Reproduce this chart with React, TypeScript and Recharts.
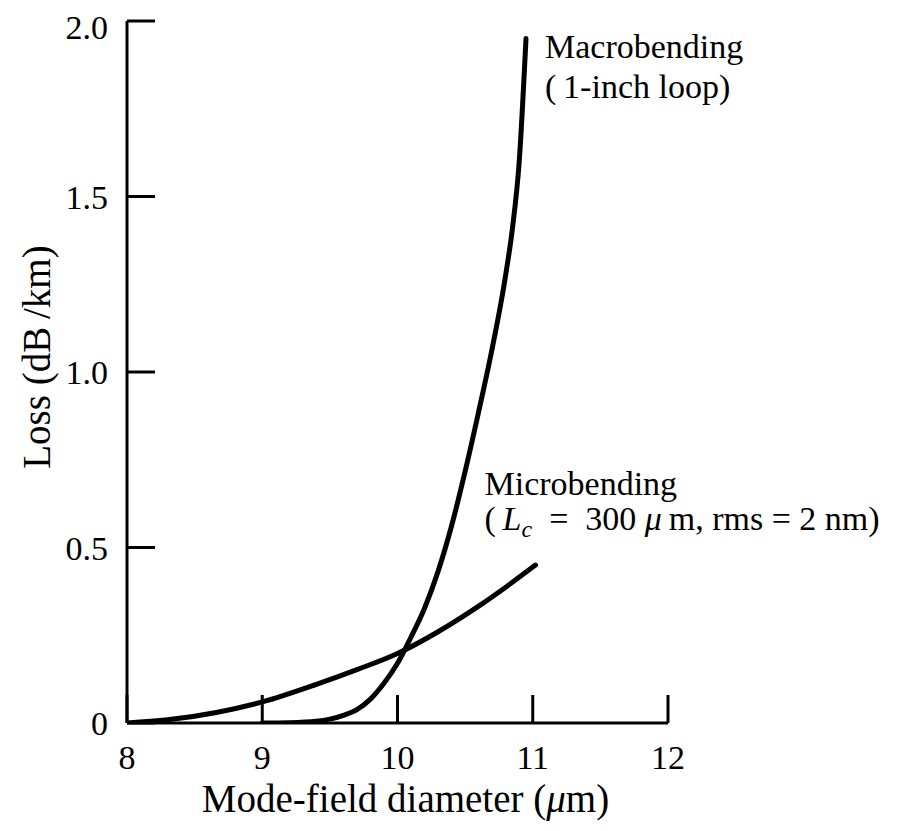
import React from "react";
import { LineChart, Line, XAxis, YAxis, ReferenceDot, Label } from "recharts";

const xTicks = [8, 9, 10, 11, 12];
const yTicks = [0, 0.5, 1.0, 1.5, 2.0];

const macroX = [9.0, 9.2, 9.4, 9.5, 9.6, 9.7, 9.8, 9.9, 10.0, 10.1, 10.2, 10.3, 10.4, 10.5, 10.6, 10.7, 10.8, 10.85, 10.9, 10.95];
const macroY = [0, 0.001, 0.005, 0.011, 0.022, 0.038, 0.068, 0.113, 0.17, 0.245, 0.327, 0.432, 0.562, 0.717, 0.887, 1.067, 1.277, 1.41, 1.6, 1.95];

const microX = [8.0, 8.3, 8.66, 9.0, 9.4, 9.7, 10.0, 10.3, 10.6, 10.8, 11.02];
const microY = [0, 0.009, 0.03, 0.06, 0.11, 0.152, 0.198, 0.26, 0.333, 0.387, 0.45];

const macroData = macroX.map((x, i) => ({ x, y: macroY[i] }));
const microData = microX.map((x, i) => ({ x, y: microY[i] }));

const FONT = "'Liberation Serif', 'DejaVu Serif', serif";
const FS = 34;
const TITLE_FS = 39;

const XLabel = (props: any) => {
  const vb = props.viewBox || {};
  return (
    <text x={vb.x + vb.width / 2 + 8} y={vb.y + 89} textAnchor="middle" fontFamily={FONT} fontSize={TITLE_FS} fill="#000">
      {"Mode-field diameter ("}<tspan fontStyle="italic">{"\u03bc"}</tspan>{"m)"}
    </text>
  );
};

const YLabel = (props: any) => {
  const vb = props.viewBox || {};
  const x = vb.x + vb.width - 77;
  const y = vb.y + vb.height / 2 - 15;
  return (
    <text x={x} y={y} textAnchor="middle" fontFamily={FONT} fontSize={TITLE_FS} fill="#000" transform={`rotate(-90, ${x}, ${y})`}>
      {"Loss (dB\u2009/km)"}
    </text>
  );
};

const MacroLabel = (props: any) => {
  const vb = props.viewBox || {};
  const x = vb.x + 19;
  return (
    <g>
      <text x={x} y={vb.y + 19} fontFamily={FONT} fontSize={FS} fill="#000">Macrobending</text>
      <text x={x} y={vb.y + 59} fontFamily={FONT} fontSize={FS} fill="#000">{"(\u20091-inch loop)"}</text>
    </g>
  );
};

const MicroLabel = (props: any) => {
  const vb = props.viewBox || {};
  const x = vb.x - 51;
  return (
    <g>
      <text x={x} y={vb.y - 70} fontFamily={FONT} fontSize={FS} fill="#000">Microbending</text>
      <text x={x} y={vb.y - 35} fontFamily={FONT} fontSize={FS} fill="#000">
        {"(\u2009"}
        <tspan fontStyle="italic">L</tspan>
        <tspan fontStyle="italic" fontSize={24} dy={7}>c</tspan>
        <tspan dy={-7}>{"\u00a0\u00a0=\u00a0\u00a0300\u00a0"}</tspan>
        <tspan fontStyle="italic">{"\u03bc"}</tspan>
        <tspan>{"\u2009m, rms\u00a0=\u00a02 nm)"}</tspan>
      </text>
    </g>
  );
};

export default function App() {
  return (
    <LineChart width={886} height={815} margin={{ top: 13, right: 226, bottom: 40, left: 59 }}>
      <XAxis
        dataKey="x"
        type="number"
        domain={[8, 12]}
        ticks={xTicks}
        allowDataOverflow
        height={60}
        tickSize={-28}
        tickMargin={50}
        axisLine={{ stroke: "#000", strokeWidth: 3 }}
        tickLine={{ stroke: "#000", strokeWidth: 3 }}
        tick={{ fill: "#000", fontSize: FS, fontFamily: FONT }}
      >
        <Label content={XLabel} />
      </XAxis>
      <YAxis
        type="number"
        domain={[0, 2]}
        ticks={yTicks}
        allowDataOverflow
        width={60}
        tickSize={-28}
        tickMargin={47}
        tickFormatter={(v: number) => (v === 0 ? "0" : v.toFixed(1))}
        axisLine={{ stroke: "#000", strokeWidth: 3 }}
        tickLine={{ stroke: "#000", strokeWidth: 3 }}
        tick={{ fill: "#000", fontSize: FS, fontFamily: FONT }}
      >
        <Label content={YLabel} />
      </YAxis>
      <Line data={microData} dataKey="y" type="monotone" dot={false} stroke="#000" strokeWidth={5} strokeLinecap="round" isAnimationActive={false} />
      <Line data={macroData} dataKey="y" type="monotone" dot={false} stroke="#000" strokeWidth={5} strokeLinecap="round" isAnimationActive={false} />
      <ReferenceDot x={macroX[macroX.length - 1]} y={macroY[macroY.length - 1]} r={0} fill="none" stroke="none">
        <Label content={MacroLabel} />
      </ReferenceDot>
      <ReferenceDot x={microX[microX.length - 1]} y={microY[microY.length - 1]} r={0} fill="none" stroke="none">
        <Label content={MicroLabel} />
      </ReferenceDot>
    </LineChart>
  );
}
